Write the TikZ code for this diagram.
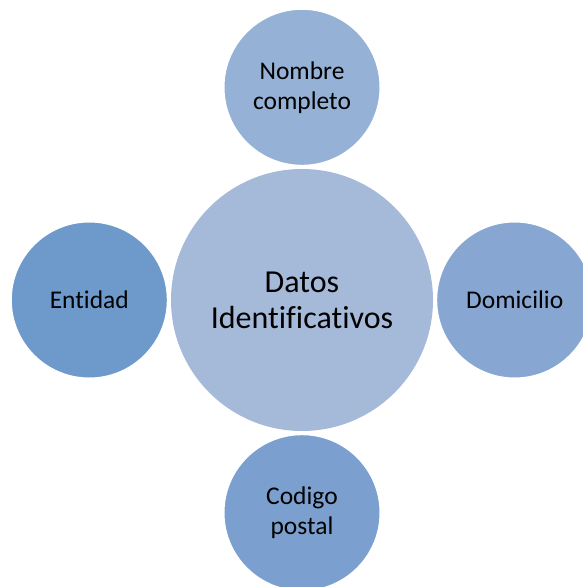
\documentclass[tikz,border=0pt]{standalone}
\usepackage{fontspec}
\setmainfont{Carlito}[Ligatures=NoCommon]
\usepackage{xcolor}
\usepackage{tikz}
\usetikzlibrary{positioning}

\definecolor{centrefill}{HTML}{A5B9D9}
\definecolor{topfill}{HTML}{95B1D5}
\definecolor{rightfill}{HTML}{87A7D2}
\definecolor{bottomfill}{HTML}{7BA0CF}
\definecolor{leftfill}{HTML}{6E9ACB}

\begin{document}
\begin{tikzpicture}[
    x=1pt, y=1pt,
    node distance=1pt,
    hub/.style={circle, fill=centrefill, minimum size=262pt, inner sep=0pt, align=center, font=\fontsize{32}{36}\selectfont},
    spoke/.style={circle, draw=white, line width=3pt, minimum size=158pt, inner sep=0pt, align=center, font=\fontsize{25.5}{30}\selectfont}
]
    \useasboundingbox (0,0) rectangle (583,-587);
    \begin{scope}
    \clip (0,0) rectangle (583,-587);
    \node[hub] (datos) at (302,-300) {Datos\\Identificativos};
    \node[spoke, fill=topfill, above=of datos] (nombre) {Nombre\\completo};
    \node[spoke, fill=rightfill, right=of datos] (domicilio) {Domicilio};
    \node[spoke, fill=bottomfill, below=of datos] (codigo) {Codigo\\postal};
    \node[spoke, fill=leftfill, left=of datos] (entidad) {Entidad};
    \end{scope}
\end{tikzpicture}
\end{document}
